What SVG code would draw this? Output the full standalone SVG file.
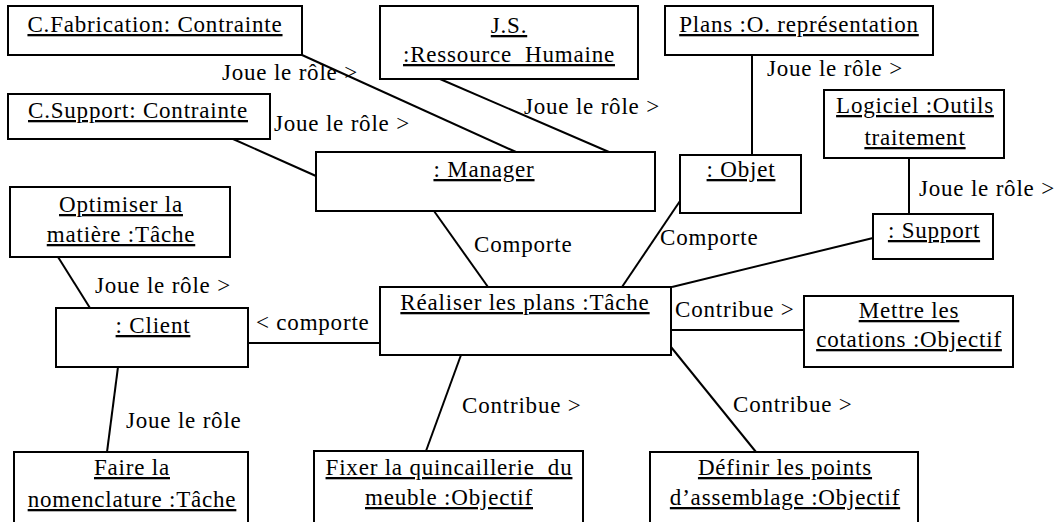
<svg xmlns="http://www.w3.org/2000/svg" width="1055" height="522" viewBox="0 0 1055 522" font-family="Liberation Serif, Times New Roman, serif">
<style>
.box{fill:#fff;stroke:#000;stroke-width:2}
.n{font-size:23px;letter-spacing:0.8px;text-anchor:middle;text-decoration:underline;fill:#000}
.l{font-size:23px;letter-spacing:0.8px;fill:#000}
.c{stroke:#000;stroke-width:2;fill:none}
</style>
<rect width="1055" height="522" fill="#fff"/>
<g id="connectors">
<line class="c" x1="302" y1="55" x2="516" y2="152"/>
<line class="c" x1="233" y1="139" x2="316" y2="176"/>
<line class="c" x1="440" y1="79" x2="609" y2="152"/>
<line class="c" x1="752" y1="55" x2="752" y2="155"/>
<line class="c" x1="909" y1="158" x2="909" y2="214"/>
<line class="c" x1="434" y1="211" x2="488" y2="287"/>
<line class="c" x1="680" y1="201" x2="622" y2="287"/>
<line class="c" x1="873" y1="238" x2="672" y2="287"/>
<line class="c" x1="671" y1="330" x2="804" y2="330"/>
<line class="c" x1="58" y1="257" x2="90" y2="308"/>
<line class="c" x1="248" y1="343" x2="380" y2="343"/>
<line class="c" x1="118" y1="367" x2="107" y2="452"/>
<line class="c" x1="461" y1="355" x2="426" y2="451"/>
<line class="c" x1="671" y1="347" x2="756" y2="452"/>
<text class="l" x="222" y="80">Joue le rôle &gt;</text>
<text class="l" x="274" y="131">Joue le rôle &gt;</text>
<text class="l" x="524" y="114">Joue le rôle &gt;</text>
<text class="l" x="767" y="76">Joue le rôle &gt;</text>
<text class="l" x="919" y="196">Joue le rôle &gt;</text>
<text class="l" x="474" y="252">Comporte</text>
<text class="l" x="660" y="245">Comporte</text>
<text class="l" x="95" y="293">Joue le rôle &gt;</text>
<text class="l" x="256" y="330">&lt; comporte</text>
<text class="l" x="675" y="317">Contribue &gt;</text>
<text class="l" x="126" y="428">Joue le rôle</text>
<text class="l" x="462" y="413">Contribue &gt;</text>
<text class="l" x="733" y="412">Contribue &gt;</text>
</g>
<g id="cfabrication"><rect class="box" x="8" y="6" width="294" height="49"/><text class="n" x="155" y="32">C.Fabrication: Contrainte</text></g>
<g id="csupport"><rect class="box" x="8" y="94" width="262" height="45"/><text class="n" x="138" y="118">C.Support: Contrainte</text></g>
<g id="js"><rect class="box" x="380" y="6" width="258" height="73"/><text class="n" x="509" y="33">J.S.</text><text class="n" x="509" y="62">:Ressource&#160; Humaine</text></g>
<g id="plans"><rect class="box" x="665" y="6" width="268" height="49"/><text class="n" x="799" y="32">Plans :O. représentation</text></g>
<g id="manager"><rect class="box" x="316" y="152" width="339" height="59"/><text class="n" x="484" y="177">: Manager</text></g>
<g id="objet"><rect class="box" x="680" y="155" width="121" height="58"/><text class="n" x="741" y="177">: Objet</text></g>
<g id="logiciel"><rect class="box" x="824" y="90" width="180" height="68"/><text class="n" x="915" y="113">Logiciel :Outils</text><text class="n" x="915" y="145">traitement</text></g>
<g id="support"><rect class="box" x="873" y="214" width="120" height="45"/><text class="n" x="934" y="238">: Support</text></g>
<g id="optimiser"><rect class="box" x="10" y="187" width="220" height="70"/><text class="n" x="121" y="212">Optimiser la</text><text class="n" x="121" y="242">matière :Tâche</text></g>
<g id="client"><rect class="box" x="56" y="308" width="192" height="59"/><text class="n" x="153" y="333">: Client</text></g>
<g id="realiser"><rect class="box" x="380" y="287" width="291" height="68"/><text class="n" x="525" y="310">Réaliser les plans :Tâche</text></g>
<g id="mettre"><rect class="box" x="804" y="296" width="209" height="71"/><text class="n" x="909" y="318">Mettre les</text><text class="n" x="909" y="347">cotations :Objectif</text></g>
<g id="faire"><rect class="box" x="14" y="452" width="234" height="80"/><text class="n" x="132" y="475">Faire la</text><text class="n" x="132" y="507">nomenclature :Tâche</text></g>
<g id="fixer"><rect class="box" x="314" y="451" width="269" height="80"/><text class="n" x="449" y="475">Fixer la quincaillerie&#160; du</text><text class="n" x="449" y="505">meuble :Objectif</text></g>
<g id="definir"><rect class="box" x="650" y="452" width="268" height="80"/><text class="n" x="785" y="475">Définir les points</text><text class="n" x="785" y="505">d’assemblage :Objectif</text></g>
</svg>
